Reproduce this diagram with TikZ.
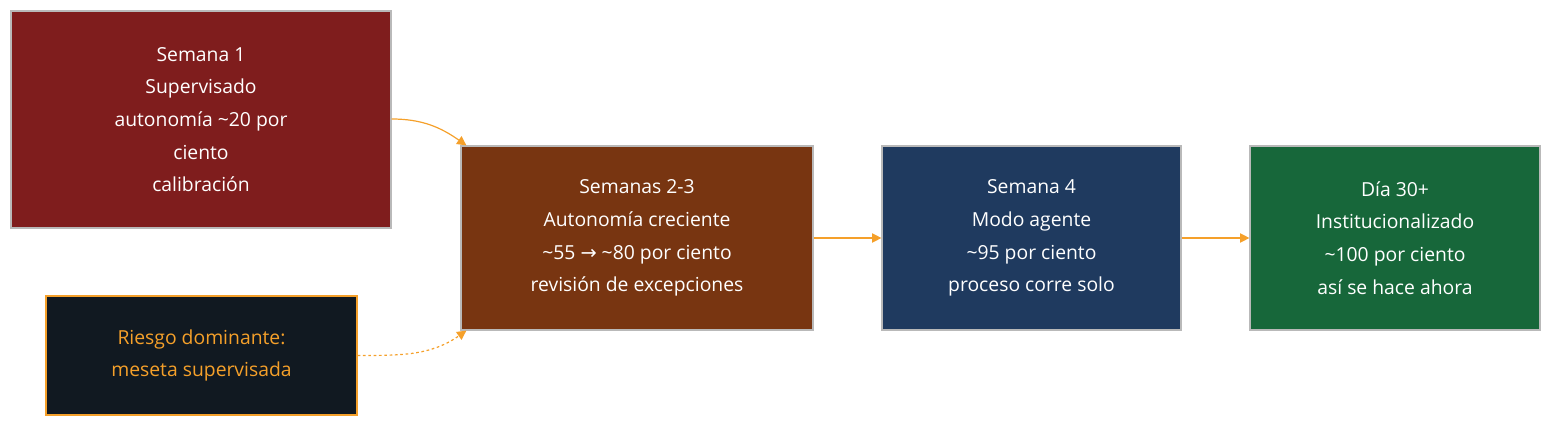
\documentclass[tikz,border=0pt]{standalone}
\usepackage{fontspec}
\setmainfont{Open Sans}
\newfontfamily\symfont{DejaVu Sans}
\usetikzlibrary{arrows.meta,positioning,calc}
\definecolor{wkred}{HTML}{7F1D1D}
\definecolor{wkbrown}{HTML}{783511}
\definecolor{wknavy}{HTML}{1F3A5F}
\definecolor{wkgreen}{HTML}{17673A}
\definecolor{wkdark}{HTML}{111921}
\definecolor{wkorange}{HTML}{F5A02A}
\tikzset{
  phase/.style={draw=gray!55, line width=0.9pt, text=white, align=center,
    font=\fontsize{14.5}{24.5}\selectfont, inner sep=0pt},
  flow/.style={-{Triangle[length=7pt,width=7pt]}, draw=wkorange, line width=0.9pt}
}
\begin{document}
\begin{tikzpicture}[x=0.75pt,y=-0.75pt]
  \useasboundingbox (0,0) rectangle (1568,434);
  % fases
  \node[phase, fill=wkred, minimum width=380*0.75pt, minimum height=217*0.75pt] (s1) at (201,119.5)
    {Semana 1\\Supervisado\\autonomía \textasciitilde20 por\\ciento\\calibración};
  \node[phase, fill=wkbrown, minimum width=352*0.75pt, minimum height=184*0.75pt] (s23) at (637,238)
    {Semanas 2-3\\Autonomía creciente\\\textasciitilde55 {\symfont →} \textasciitilde80 por ciento\\revisión de excepciones};
  \node[phase, fill=wknavy, minimum width=299*0.75pt, minimum height=184*0.75pt] (s4) at (1031.5,238)
    {Semana 4\\Modo agente\\\textasciitilde95 por ciento\\proceso corre solo};
  \node[phase, fill=wkgreen, minimum width=290*0.75pt, minimum height=184*0.75pt] (d30) at (1395,238)
    {Día 30+\\Institucionalizado\\\textasciitilde100 por ciento\\así se hace ahora};
  \node[phase, draw=wkorange, fill=wkdark, text=wkorange, minimum width=311*0.75pt, minimum height=119*0.75pt] (risk) at (201.5,355.5)
    {Riesgo dominante:\\meseta supervisada};
  % conexiones
  \draw[flow] (s1.east |- 0,119) to[out=0,in=145] ($(s23.north west)+(6,0)$);
  \draw[flow, dash pattern=on 2pt off 2pt] (risk.east) to[out=0,in=-145] ($(s23.south west)+(6,0)$);
  \draw[flow] (s23) -- (s4);
  \draw[flow] (s4) -- (d30);
\end{tikzpicture}
\end{document}
